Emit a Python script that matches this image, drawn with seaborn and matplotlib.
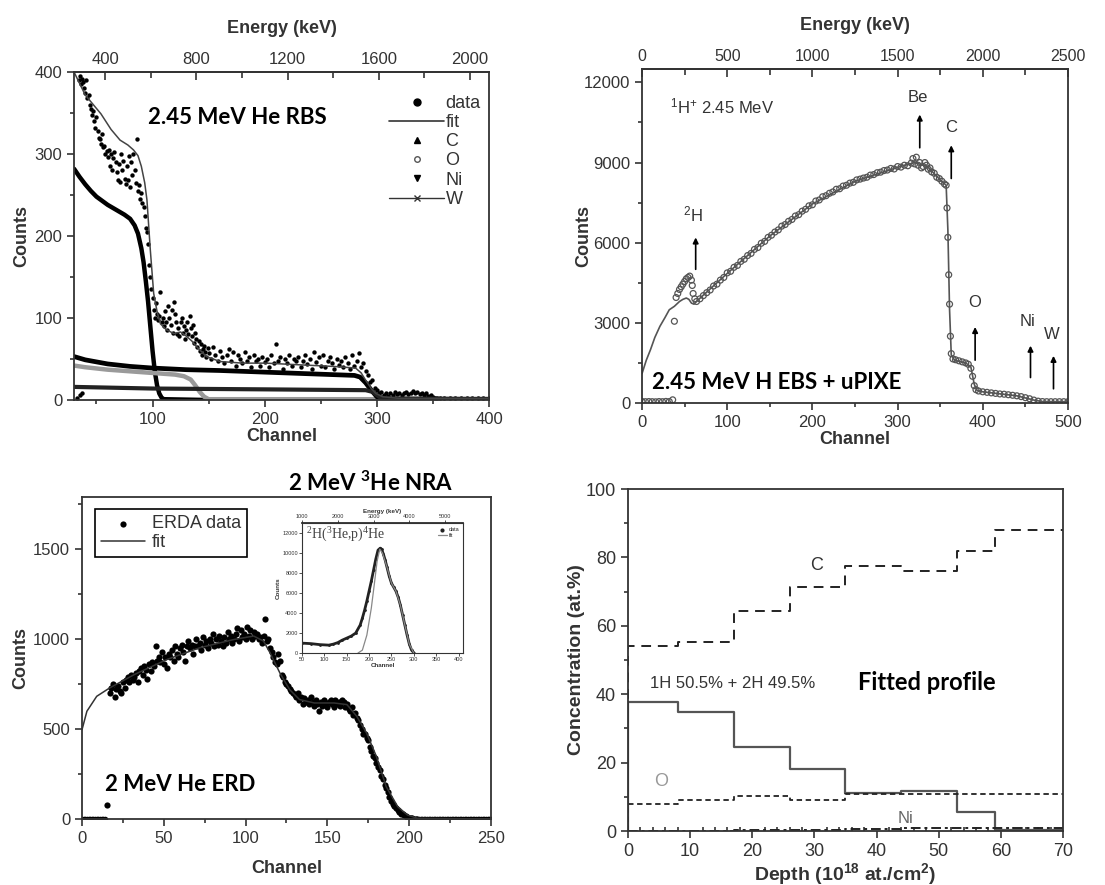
import numpy as np
import matplotlib
matplotlib.use('Agg')
import matplotlib.pyplot as plt
import seaborn as sns
from matplotlib.lines import Line2D
from matplotlib.ticker import MultipleLocator, FixedLocator

sns.set_theme(style='ticks')
plt.rcParams['font.family'] = ['Liberation Sans', 'DejaVu Sans']
plt.rcParams['mathtext.default'] = 'regular'

INK = '#333333'
TITLE_FONT = ['Lato', 'Open Sans', 'DejaVu Sans']

# ---------------- top left: 2.45 MeV He RBS ----------------
rbs_ch = [33, 35, 37, 34, 35, 36, 37, 38, 39, 40, 41, 42, 43, 44, 45, 46, 47, 48, 49, 50, 51, 52, 53, 54, 55,
          56, 57, 58, 59, 60, 61, 62, 63, 64, 65, 66, 67, 68, 69, 70, 71, 72, 73, 74, 75, 76, 77, 78, 79, 80,
          81, 82, 83, 84, 85, 86, 87, 88, 89, 90, 91, 92, 93, 94, 95, 96, 97, 98, 99, 100, 101, 102, 103, 104,
          105, 106, 107, 108, 109, 110, 111, 112, 113, 114, 115, 116, 117, 118, 119, 120, 121, 122, 123, 124,
          125, 126, 127, 128, 129, 130, 131, 132, 133, 134, 135, 136, 137, 138, 139, 140, 141, 142, 143, 144,
          145, 146, 147, 148, 149, 150, 152, 154, 156, 158, 160, 162, 164, 166, 168, 170, 172, 174, 176, 178,
          180, 182, 184, 186, 188, 190, 192, 194, 196, 198, 200, 202, 204, 206, 208, 210, 212, 214, 216, 218,
          220, 222, 224, 226, 228, 230, 232, 234, 236, 238, 240, 242, 244, 246, 248, 250, 252, 254, 256, 258,
          260, 262, 264, 266, 268, 270, 272, 274, 276, 278, 280, 282, 284, 286, 288, 290, 292, 294, 296, 298,
          300, 302, 304, 306, 308, 310, 312, 314, 316, 318, 320, 322, 324, 326, 328, 330, 332, 334, 336, 338,
          340, 342, 344, 346, 348, 350, 352, 354, 356, 360, 365, 370, 375, 380, 385, 390, 395, 400]
rbs_counts = [3, 6, 8, 390, 395, 385, 392, 388, 380, 375, 390, 368, 372, 360, 355, 348, 352, 340, 332, 345, 328,
              320, 318, 312, 325, 308, 310, 300, 304, 296, 305, 285, 300, 280, 295, 302, 290, 278, 268, 288, 266,
              300, 280, 292, 270, 264, 285, 268, 297, 260, 290, 275, 300, 280, 265, 318, 255, 262, 245, 252, 240,
              235, 225, 210, 205, 190, 165, 150, 135, 125, 110, 100, 118, 105, 98, 103, 132, 95, 100, 90, 108, 95,
              85, 115, 100, 92, 110, 82, 120, 105, 95, 80, 88, 78, 95, 100, 82, 90, 75, 85, 95, 80, 103, 88, 78,
              92, 70, 82, 75, 65, 72, 60, 68, 55, 62, 66, 58, 52, 63, 57, 50, 65, 55, 48, 60, 52, 45, 55, 62, 48,
              58, 42, 55, 50, 45, 58, 48, 52, 40, 55, 47, 50, 42, 53, 46, 50, 40, 55, 45, 68, 48, 52, 38, 50, 45,
              55, 42, 50, 47, 53, 40, 48, 55, 44, 50, 38, 58, 46, 52, 42, 55, 40, 48, 52, 45, 38, 50, 43, 47, 40,
              52, 45, 38, 55, 42, 48, 57, 40, 45, 35, 30, 22, 25, 15, 12, 8, 10, 6, 9, 5, 8, 6, 10, 7, 9, 6, 8, 10,
              7, 9, 11, 8, 10, 7, 9, 6, 8, 5, 6, 4, 3, 3, 2, 2, 2, 2, 2, 2, 2, 2, 2, 2]
rbs_fit_ch = [30, 40, 54, 63, 71, 78, 83, 87, 90, 93, 95, 98, 101, 104, 107, 112, 119, 125, 130, 135, 140, 148,
              160, 180, 201, 230, 261, 281, 286, 290, 295, 299, 305, 320, 350, 400]
rbs_fit = [400, 372, 349, 330, 317, 311, 305, 298, 285, 265, 244, 183, 130, 108, 93, 86, 81, 83, 78, 72, 64, 53,
           47, 45, 45, 43, 41, 39, 33, 24, 14, 8, 4, 2, 2, 2]
c_ch = [30, 35, 40, 45, 50, 55, 60, 65, 70, 75, 80, 84, 87, 90, 92, 94, 96, 98, 100, 102, 104, 106, 108, 110, 150]
c_counts = [282, 272, 263, 255, 248, 243, 238, 234, 230, 226, 221, 213, 203, 185, 168, 145, 120, 90, 60, 35, 18,
            8, 3, 1, 0]
o_ch = [30, 40, 60, 80, 100, 120, 128, 134, 138, 142, 146, 150, 400]
o_counts = [42, 40, 37, 35, 33, 31, 29, 25, 18, 10, 4, 1, 1]
ni_ch = [30, 40, 60, 80, 100, 130, 160, 200, 240, 280, 285, 290, 295, 300, 310, 400]
ni_counts = [53, 49, 44, 41, 39, 37, 36, 34, 32, 30, 28, 21, 12, 4, 1, 1]
w_ch = [30, 100, 200, 290, 296, 300, 304, 400]
w_counts = [16, 14, 13, 12, 10, 6, 2, 1]
rbs_kev_offset = 116.5
rbs_kev_per_ch = 4.917
rbs_kev_ticks = [400, 800, 1200, 1600, 2000]

# ---------------- top right: 2.45 MeV H EBS ----------------
ebs_ch = [0, 4, 8, 12, 16, 20, 24, 28, 32, 36, 38, 40, 42, 44, 46, 48, 50, 52, 54, 56, 58, 59, 60, 62, 64, 68,
          72, 76, 80, 84, 88, 92, 96, 100, 104, 108, 112, 116, 120, 124, 128, 132, 136, 140, 144, 148, 152, 156,
          160, 164, 168, 172, 176, 180, 184, 188, 192, 196, 200, 204, 208, 212, 216, 220, 224, 228, 232, 236,
          240, 244, 248, 252, 256, 260, 264, 268, 272, 276, 280, 284, 288, 292, 296, 300, 304, 308, 312, 316,
          318, 320, 322, 324, 326, 328, 330, 332, 334, 336, 338, 340, 343, 346, 349, 352, 355, 357, 358, 359,
          360, 361, 362, 363, 365, 368, 372, 376, 380, 383, 386, 388, 390, 392, 395, 400, 405, 410, 415, 420,
          425, 430, 435, 440, 445, 450, 455, 460, 465, 470, 475, 480, 485, 490, 495, 500]
ebs_counts = [60, 50, 55, 50, 45, 55, 50, 60, 55, 120, 3060, 3950, 4100, 4250, 4350, 4450, 4550, 4650, 4700,
              4750, 4600, 4400, 4100, 3900, 3800, 3900, 4020, 4130, 4230, 4380, 4450, 4600, 4700, 4870, 4930,
              5080, 5150, 5300, 5380, 5520, 5600, 5750, 5820, 5980, 6050, 6200, 6280, 6400, 6480, 6620, 6680,
              6800, 6870, 7000, 7050, 7180, 7250, 7380, 7420, 7560, 7600, 7720, 7760, 7850, 7900, 8000, 8020,
              8120, 8150, 8230, 8260, 8350, 8380, 8420, 8450, 8530, 8550, 8620, 8640, 8700, 8720, 8780, 8760,
              8850, 8830, 8900, 8880, 8980, 9150, 8950, 9200, 8900, 9000, 8800, 8850, 9000, 8900, 8750, 8800,
              8650, 8600, 8450, 8400, 8300, 8200, 8150, 7300, 6200, 4800, 3700, 2500, 1850, 1650, 1620, 1580,
              1540, 1500, 1450, 1300, 1000, 650, 500, 450, 420, 400, 380, 360, 340, 330, 310, 290, 270, 240, 200,
              160, 110, 70, 55, 50, 50, 50, 50, 50, 50]
ebs_fit_ch = [0, 5, 10, 15, 21, 27, 32, 38, 44, 48, 52, 55, 58, 61, 64, 70, 100, 150, 200, 250, 300, 320, 335,
              350, 357, 359, 361, 363, 367, 380, 386, 390, 393, 400, 440, 460, 470, 500]
ebs_fit = [1100, 1600, 2000, 2450, 2870, 3200, 3490, 3620, 3800, 3880, 3930, 3880, 3740, 3700, 3800, 3980, 4850,
           6250, 7450, 8300, 8820, 9000, 8850, 8350, 8150, 6500, 3500, 1800, 1600, 1500, 1350, 700, 480, 420,
           270, 110, 55, 50]
ebs_kev_per_ch = 5.0
ebs_kev_ticks = [0, 500, 1000, 1500, 2000, 2500]
peak_names = [r'$^{2}$H', 'Be', 'C', 'O', 'Ni', 'W']
peak_text_x = [60, 324, 363, 391, 452, 481]
peak_text_y = [7050, 11450, 10300, 3750, 3050, 2550]
peak_arrow_x = [63, 326, 363, 391, 456, 483]
peak_arrow_from = [4900, 9450, 8300, 1500, 850, 430]
peak_arrow_to = [6300, 10900, 9750, 2950, 2250, 1870]

# ---------------- bottom left: 2 MeV He ERD ----------------
erd_zero_ch = list(range(0, 15)) + list(range(206, 251))
erd_ch = [15, 17, 18, 19, 20, 21, 22, 23, 24, 25, 26, 27, 28, 29, 30, 31, 32, 33, 34, 35, 36, 37, 38, 39, 40, 41,
          42, 43, 44, 45, 46, 47, 48, 49, 50, 51, 52, 53, 54, 55, 56, 57, 58, 59, 60, 61, 62, 63, 64, 65, 66, 67,
          68, 69, 70, 71, 72, 73, 74, 75, 76, 77, 78, 79, 80, 81, 82, 83, 84, 85, 86, 87, 88, 89, 90, 91, 92, 93,
          94, 95, 96, 97, 98, 99, 100, 101, 102, 103, 104, 105, 106, 107, 108, 109, 110, 111, 112, 113, 114, 115,
          116, 117, 118, 119, 120, 121, 122, 123, 124, 125, 126, 127, 128, 129, 130, 131, 132, 133, 134, 135,
          136, 137, 138, 139, 140, 141, 142, 143, 144, 145, 146, 147, 148, 149, 150, 151, 152, 153, 154, 155,
          156, 157, 158, 159, 160, 161, 162, 163, 164, 165, 166, 167, 168, 169, 170, 171, 172, 173, 174, 175,
          176, 177, 178, 179, 180, 181, 182, 183, 184, 185, 186, 187, 188, 189, 190, 191, 192, 193, 194, 195,
          196, 197, 198, 199, 200, 201, 202, 203, 204, 205]
erd_counts = [80, 700, 730, 750, 680, 720, 740, 710, 700, 760, 730, 770, 790, 760, 800, 770, 790, 810, 760, 820,
              840, 800, 850, 830, 780, 860, 820, 870, 850, 960, 880, 900, 870, 930, 860, 900, 840, 920, 900, 940,
              880, 960, 920, 900, 950, 970, 930, 880, 960, 990, 950, 970, 920, 960, 1000, 960, 980, 940, 1010, 970,
              990, 950, 1000, 980, 1030, 960, 1000, 970, 1020, 990, 960, 1010, 980, 1040, 1000, 1020, 980, 1000,
              1030, 1060, 990, 1050, 1010, 1030, 1000, 1070, 1020, 1050, 1000, 1040, 1020, 1030, 1000, 1010, 980,
              1020, 1110, 990, 1000, 950, 930, 900, 870, 860, 920, 880, 800, 790, 760, 750, 740, 720, 710, 700,
              690, 680, 700, 660, 680, 640, 670, 650, 660, 640, 680, 650, 630, 660, 640, 600, 650, 630, 660, 640,
              620, 650, 660, 640, 620, 660, 640, 650, 630, 660, 650, 620, 640, 610, 600, 620, 580, 590, 560, 550,
              520, 500, 470, 470, 450, 440, 400, 380, 350, 340, 310, 290, 270, 240, 220, 190, 170, 150, 120, 100,
              85, 70, 60, 50, 40, 30, 25, 20, 15, 10, 8, 5, 3, 2, 1, 0]
erd_fit_ch = [0, 3, 9, 17, 32, 52, 72, 93, 105, 111, 115, 121, 127, 133, 142, 154, 162, 168, 174, 180, 186, 193,
              199, 205, 250]
erd_fit = [496, 599, 682, 729, 803, 887, 952, 998, 1017, 989, 924, 812, 719, 664, 645, 645, 636, 571, 478, 348,
           180, 69, 22, 4, 0]

# inset: 2H(3He,p)4He
nra_ch = [50, 70, 90, 110, 120, 130, 140, 150, 160, 170, 180, 185, 190, 195, 200, 205, 210, 215, 220, 225, 228,
          232, 236, 240, 245, 250, 255, 260, 265, 270, 275, 280, 285, 290, 295, 300]
nra_counts = [1000, 950, 850, 800, 900, 1050, 1300, 1500, 1700, 2000, 2800, 3500, 4300, 5200, 6200, 7200, 8300,
              9400, 10300, 10500, 10400, 9900, 9300, 8600, 7700, 7000, 6600, 6200, 5600, 4800, 3800, 2800, 1800,
              900, 300, 50]
nra_fit_ch = [175, 185, 195, 205, 212, 218, 224, 230, 240, 250, 260, 270, 280, 290, 300]
nra_fit = [0, 300, 1800, 4500, 7000, 9200, 10400, 10000, 8600, 7000, 6200, 4800, 2800, 900, 0]
nra_kev_offset = 375.0
nra_kev_per_ch = 12.5
nra_kev_ticks = [1000, 2000, 3000, 4000, 5000]

# ---------------- bottom right: fitted depth profile ----------------
depth = [0, 0, 8, 17, 26, 35, 44, 53, 59, 70]
conc_c = [0, 54, 55.2, 64.2, 71.5, 77.4, 76.1, 82, 88.1, 88.1]
conc_h = [0, 37.7, 34.9, 24.5, 18.1, 11, 11.8, 5.7, 0.3, 0.3]
conc_o = [0, 7.8, 9.1, 10.2, 9.1, 10.8, 10.8, 10.8, 10.8, 10.8]
conc_ni = [0, 0.1, 0.1, 0.2, 0.4, 0.5, 0.9, 1.0, 1.0, 1.0]


def style(ax, labelsize=12):
    for s in ax.spines.values():
        s.set_linewidth(1.3)
        s.set_color(INK)
    ax.tick_params(which='both', direction='out', colors=INK, labelsize=labelsize, width=1.2)
    ax.tick_params(which='major', length=5)
    ax.tick_params(which='minor', length=3)


def label(ax, x, y):
    ax.set_xlabel(x, fontsize=13, fontweight='bold', color=INK, labelpad=1)
    ax.set_ylabel(y, fontsize=13, fontweight='bold', color=INK)


fig = plt.figure(figsize=(11.05, 8.85), dpi=100)

# top left
ax1 = fig.add_axes([0.067, 0.548, 0.3756, 0.3706])
sns.lineplot(x=c_ch, y=c_counts, color='black', lw=3.2, ax=ax1, sort=False, estimator=None)
sns.lineplot(x=o_ch, y=o_counts, color='#9a9a9a', lw=3.2, ax=ax1, sort=False, estimator=None)
sns.lineplot(x=ni_ch, y=ni_counts, color='black', lw=3.4, ax=ax1, sort=False, estimator=None)
sns.lineplot(x=w_ch, y=w_counts, color='#222222', lw=3.0, ax=ax1, sort=False, estimator=None)
sns.scatterplot(x=rbs_ch, y=rbs_counts, color='black', s=10, linewidth=0, ax=ax1)
sns.lineplot(x=rbs_fit_ch, y=rbs_fit, color='#444444', lw=1.1, ax=ax1, sort=False, estimator=None)
ax1.set_xlim(30, 400)
ax1.set_ylim(0, 400)
ax1.xaxis.set_major_locator(MultipleLocator(100))
ax1.xaxis.set_minor_locator(MultipleLocator(50))
ax1.yaxis.set_major_locator(MultipleLocator(100))
ax1.yaxis.set_minor_locator(MultipleLocator(50))
style(ax1)
label(ax1, 'Channel', 'Counts')
ax1.yaxis.set_label_coords(-0.105, 0.5)
top1 = ax1.secondary_xaxis('top', functions=(lambda c: rbs_kev_offset + rbs_kev_per_ch * c,
                                              lambda e: (e - rbs_kev_offset) / rbs_kev_per_ch))
top1.xaxis.set_major_locator(FixedLocator(rbs_kev_ticks))
top1.xaxis.set_minor_locator(FixedLocator([600, 1000, 1400, 1800]))
top1.tick_params(which='both', direction='in', colors=INK, labelsize=12, width=1.2)
top1.set_xlabel('Energy (keV)', fontsize=13, fontweight='bold', color=INK, labelpad=14)
handles = [Line2D([], [], ls='none', marker='o', color='black', ms=5, label='data'),
           Line2D([], [], color='#333333', lw=1.2, label='fit'),
           Line2D([], [], ls='none', marker='^', color='black', ms=5, label='C'),
           Line2D([], [], ls='none', marker='o', mfc='white', mec='#555555', ms=4, label='O'),
           Line2D([], [], ls='none', marker='v', color='black', ms=5, label='Ni'),
           Line2D([], [], color='#333333', marker='x', ms=4, lw=1, label='W')]
leg = ax1.legend(handles=handles, loc='upper left', bbox_to_anchor=(0.76, 0.93), frameon=False,
                 fontsize=13, labelspacing=0.12, handlelength=3.0, handletextpad=0.1,
                 borderpad=0, borderaxespad=0)
for t in leg.get_texts():
    t.set_color(INK)
ax1.text(96, 344, '2.45 MeV He RBS', fontsize=16, fontweight='bold', family=TITLE_FONT,
         va='center', ha='left', color='black')

# top right
ax2 = fig.add_axes([0.581, 0.5446, 0.3855, 0.3774])
sns.scatterplot(x=ebs_ch, y=ebs_counts, marker='o', s=18, facecolor='none', edgecolor='#555555',
                linewidth=0.9, ax=ax2)
sns.lineplot(x=ebs_fit_ch, y=ebs_fit, color='#555555', lw=1.2, ax=ax2, sort=False, estimator=None)
ax2.set_xlim(0, 500)
ax2.set_ylim(0, 12500)
ax2.xaxis.set_major_locator(MultipleLocator(100))
ax2.xaxis.set_minor_locator(MultipleLocator(50))
ax2.yaxis.set_major_locator(MultipleLocator(3000))
ax2.yaxis.set_minor_locator(MultipleLocator(1500))
style(ax2)
label(ax2, 'Channel', 'Counts')
ax2.yaxis.set_label_coords(-0.117, 0.5)
top2 = ax2.secondary_xaxis('top', functions=(lambda c: ebs_kev_per_ch * c, lambda e: e / ebs_kev_per_ch))
top2.xaxis.set_major_locator(FixedLocator(ebs_kev_ticks))
top2.xaxis.set_minor_locator(FixedLocator([250, 750, 1250, 1750, 2250]))
top2.tick_params(which='both', direction='in', colors=INK, labelsize=11.5, width=1.2)
top2.set_xlabel('Energy (keV)', fontsize=13, fontweight='bold', color=INK, labelpad=14)
for name, tx, ty, axx, a0, a1 in zip(peak_names, peak_text_x, peak_text_y, peak_arrow_x,
                                    peak_arrow_from, peak_arrow_to):
    ax2.text(tx, ty, name, fontsize=12, ha='center', va='center', color=INK)
    ax2.annotate('', xy=(axx, a1), xytext=(axx, a0),
                 arrowprops=dict(arrowstyle='-|>', color='black', lw=1.2, mutation_scale=8))
ax2.text(33, 11100, r'$^{1}$H$^{+}$ 2.45 MeV', fontsize=12, ha='left', va='center', color=INK)
ax2.text(12, 750, '2.45 MeV H EBS + uPIXE', fontsize=16, fontweight='bold', family=TITLE_FONT,
         va='center', ha='left', color='black')

# bottom left
ax3 = fig.add_axes([0.0742, 0.0746, 0.370, 0.3638])
sns.scatterplot(x=erd_zero_ch, y=[0] * len(erd_zero_ch), color='black', s=16, linewidth=0, ax=ax3)
sns.scatterplot(x=erd_ch, y=erd_counts, color='black', s=20, linewidth=0, ax=ax3, label='ERDA data')
sns.lineplot(x=erd_fit_ch, y=erd_fit, color='#333333', lw=1.1, ax=ax3, sort=False, estimator=None, label='fit')
ax3.set_xlim(0, 250)
ax3.set_ylim(0, 1790)
ax3.xaxis.set_major_locator(MultipleLocator(50))
ax3.xaxis.set_minor_locator(MultipleLocator(25))
ax3.yaxis.set_major_locator(MultipleLocator(500))
ax3.yaxis.set_minor_locator(MultipleLocator(250))
style(ax3)
ax3.set_xlabel('Channel', fontsize=13, fontweight='bold', color=INK, labelpad=10)
ax3.set_ylabel('Counts', fontsize=13, fontweight='bold', color=INK)
ax3.yaxis.set_label_coords(-0.13, 0.5)
leg3 = ax3.legend(loc='upper left', bbox_to_anchor=(0.032, 0.963), fontsize=13, fancybox=False,
                  edgecolor='black', framealpha=1, borderaxespad=0, handlelength=2.4, labelspacing=0.1,
                  borderpad=0.35, handletextpad=0.4)
leg3.get_frame().set_linewidth(1.2)
for t in leg3.get_texts():
    t.set_color(INK)
ax3.text(14, 189, '2 MeV He ERD', fontsize=16, fontweight='bold', family=TITLE_FONT,
         va='center', ha='left', color='black')
ax3.text(126, 1868, r'2 MeV $^{3}$He NRA', fontsize=16, fontweight='bold', family=TITLE_FONT,
         va='center', ha='left', color='black', clip_on=False)

# inset
ax_in = fig.add_axes([0.2733, 0.262, 0.1457, 0.1469])
sns.scatterplot(x=nra_ch, y=nra_counts, color='#222222', s=4, linewidth=0, ax=ax_in, label='data')
sns.lineplot(x=nra_ch, y=nra_counts, color='#222222', lw=2.0, ax=ax_in, sort=False, estimator=None)
sns.lineplot(x=nra_fit_ch, y=nra_fit, color='#888888', lw=0.9, ax=ax_in, sort=False, estimator=None,
             label='fit')
ax_in.set_xlim(50, 410)
ax_in.set_ylim(0, 13000)
ax_in.xaxis.set_major_locator(MultipleLocator(50))
ax_in.yaxis.set_major_locator(MultipleLocator(2000))
for s in ax_in.spines.values():
    s.set_linewidth(0.8)
    s.set_color(INK)
ax_in.tick_params(direction='out', colors=INK, labelsize=4, length=2, width=0.6, pad=1)
ax_in.set_xlabel('Channel', fontsize=4.5, fontweight='bold', color=INK, labelpad=0.5)
ax_in.set_ylabel('Counts', fontsize=4.5, fontweight='bold', color=INK, labelpad=1)
top_in = ax_in.secondary_xaxis('top', functions=(lambda c: nra_kev_offset + nra_kev_per_ch * c,
                                                 lambda e: (e - nra_kev_offset) / nra_kev_per_ch))
top_in.xaxis.set_major_locator(FixedLocator(nra_kev_ticks))
top_in.tick_params(direction='out', colors=INK, labelsize=4, length=2, width=0.6, pad=1)
top_in.set_xlabel('Energy (keV)', fontsize=4.5, fontweight='bold', color=INK, labelpad=1)
ax_in.legend(loc='upper right', fontsize=4, frameon=False, handlelength=1.6, labelspacing=0.1,
             borderpad=0.2, handletextpad=0.3, markerscale=1.5)
ax_in.text(58, 11800, r'$^{2}$H($^{3}$He,p)$^{4}$He', fontsize=10, family=['Liberation Serif', 'DejaVu Serif'],
           color='#444444', va='center', ha='left')

# bottom right
ax4 = fig.add_axes([0.5683, 0.061, 0.3937, 0.3864])
sns.lineplot(x=depth, y=conc_c, color='#222222', lw=1.4, ax=ax4, sort=False, estimator=None,
             drawstyle='steps-post', linestyle=(0, (5, 3.5)))
sns.lineplot(x=depth, y=conc_h, color='#555555', lw=1.6, ax=ax4, sort=False, estimator=None,
             drawstyle='steps-post')
sns.lineplot(x=depth, y=conc_o, color='#222222', lw=1.3, ax=ax4, sort=False, estimator=None,
             drawstyle='steps-post', linestyle=(0, (3, 2)))
sns.lineplot(x=depth, y=conc_ni, color='#222222', lw=1.4, ax=ax4, sort=False, estimator=None,
             drawstyle='steps-post', linestyle=(0, (5, 2, 1.5, 2)))
ax4.set_xlim(0, 70)
ax4.set_ylim(0, 100)
ax4.xaxis.set_major_locator(MultipleLocator(10))
ax4.xaxis.set_minor_locator(MultipleLocator(2))
ax4.yaxis.set_major_locator(MultipleLocator(20))
ax4.yaxis.set_minor_locator(MultipleLocator(10))
style(ax4, labelsize=13)
ax4.tick_params(axis='x', which='minor', direction='in')
ax4.set_xlabel(r'Depth (10$^{18}$ at./cm$^{2}$)', fontsize=14, fontweight='bold', color=INK, labelpad=1)
ax4.set_ylabel('Concentration (at.%)', fontsize=14, fontweight='bold', color=INK)
ax4.yaxis.set_label_coords(-0.099, 0.5)
ax4.text(30.4, 77.6, 'C', fontsize=13, ha='center', va='center', color=INK)
ax4.text(5.4, 14.4, 'O', fontsize=13, ha='center', va='center', color='#999999')
ax4.text(44.6, 3.7, 'Ni', fontsize=12, ha='center', va='center', color='#666666')
ax4.text(3.5, 43.2, '1H 50.5% + 2H 49.5%', fontsize=12, ha='left', va='center', color=INK)
ax4.text(37, 43.3, 'Fitted profile', fontsize=17, fontweight='bold', family=TITLE_FONT,
         va='center', ha='left', color='black')

fig.savefig('out.png', dpi=100)
